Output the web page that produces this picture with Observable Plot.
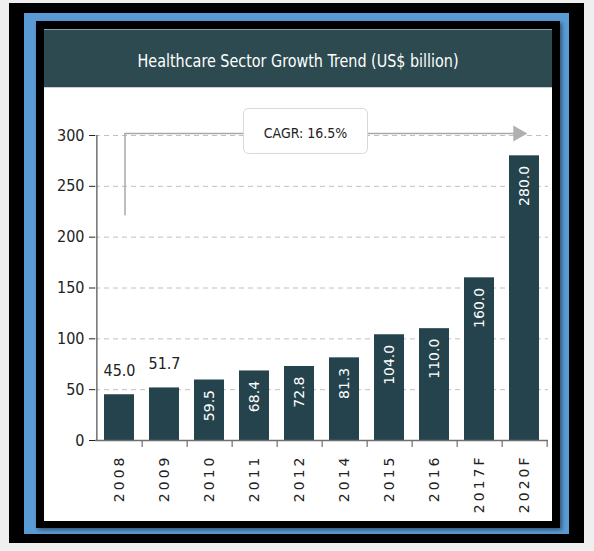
<!DOCTYPE html>
<html>
<head>
<meta charset="utf-8">
<script src="https://cdn.jsdelivr.net/npm/d3@7"></script>
<script src="https://cdn.jsdelivr.net/npm/@observablehq/plot@0.6"></script>
<style>
  html, body { margin: 0; padding: 0; background: #efefef; }
  body { width: 594px; height: 551px; position: relative; overflow: hidden; }
  .abs { position: absolute; }
  #outer { left: 9px; top: 3px; width: 575px; height: 540px; background: #000; }
  #blue { left: 24px; top: 13px; width: 545px; height: 521px; background: #5b9bd5; }
  #inner { left: 36px; top: 21px; width: 524px; height: 507px; background: #000; box-shadow: 2px 2px 4px rgba(0,0,0,0.45); }
  #white { left: 44px; top: 29px; width: 508px; height: 492px; background: #fff; }
  #title { left: 44px; top: 29px; width: 508px; height: 59px; background: #2c4a4f;
           border-top: 1px solid #8aa0a3; box-sizing: border-box; border-bottom: 1px solid #c9d0d1;
           color: #fff; font-family: "DejaVu Sans Condensed", "DejaVu Sans", sans-serif;
           font-size: 18px; text-align: center; }
  #title span { display: inline-block; position: relative; top: 20px; white-space: nowrap; transform-origin: 50% 50%; }
  #chart { left: 44px; top: 88px; }
  #chart svg { background: transparent; overflow: visible; }
  #chart g[aria-label^="y-axis"] text { font-family: "DejaVu Sans Condensed", "DejaVu Sans", sans-serif; font-size: 16px; fill: #222; }
  #chart g[aria-label^="x-axis"] text { font-family: "DejaVu Sans", sans-serif; font-size: 14px; letter-spacing: 3px; fill: #222; }
  #chart g[aria-label="inside-labels"] text { letter-spacing: 3px; }
  #chart g[aria-label="cagr-box"] { filter: drop-shadow(1px 2px 2px rgba(0,0,0,0.2)); }
</style>
</head>
<body>
<div id="outer" class="abs"></div>
<div id="blue" class="abs"></div>
<div id="inner" class="abs"></div>
<div id="white" class="abs"></div>
<div id="title" class="abs"><span></span></div>
<div id="chart" class="abs"></div>
<script>
// ---- data ----
const titleText = "Healthcare Sector Growth Trend (US$ billion)";
const years = ["2008", "2009", "2010", "2011", "2012", "2014", "2015", "2016", "2017F", "2020F"];
const values = [45.0, 51.7, 59.5, 68.4, 72.8, 81.3, 104.0, 110.0, 160.0, 280.0];
const yTicks = [0, 50, 100, 150, 200, 250, 300];
const cagrLabel = "CAGR: 16.5%";
const cagrFrom = "2008";
const cagrTo = "2020F";
const cagrLabelAt = "2012";
const cagrLevel = 302;
const cagrStart = 221;

// ---- layout ----
const W = 508, H = 433;
const mL = 51, mR = 4, mT = 47, mB = 81;
const step = (W - mL - mR) / years.length;
const barColor = "#24434c";
const axisColor = "#6f6f6f";
const narrow = "DejaVu Sans Condensed, DejaVu Sans, sans-serif";

const rows = years.map((y, i) => ({year: y, value: values[i]}));
const inside = rows.filter(d => d.value >= 55);
const outside = rows.filter(d => d.value < 55);

const span = document.querySelector("#title span");
span.textContent = titleText;
const tw = span.getBoundingClientRect().width;
span.style.transform = `scaleX(${Math.min(1, 321 / tw)})`;

// rounded-rectangle symbol used for the CAGR call-out box
const boxW = 124, boxH = 45, boxR = 5;
const roundBox = {
  draw(ctx) {
    const x0 = -boxW / 2, y0 = -boxH / 2, x1 = boxW / 2, y1 = boxH / 2, r = boxR;
    ctx.moveTo(x0 + r, y0);
    ctx.lineTo(x1 - r, y0);
    ctx.arcTo(x1, y0, x1, y0 + r, r);
    ctx.lineTo(x1, y1 - r);
    ctx.arcTo(x1, y1, x1 - r, y1, r);
    ctx.lineTo(x0 + r, y1);
    ctx.arcTo(x0, y1, x0, y1 - r, r);
    ctx.lineTo(x0, y0 + r);
    ctx.arcTo(x0, y0, x0 + r, y0, r);
    ctx.closePath();
  }
};

const chart = Plot.plot({
  width: W,
  height: H,
  marginLeft: mL,
  marginRight: mR,
  marginTop: mT,
  marginBottom: mB,
  style: {background: "transparent", color: "#222"},
  x: {domain: years, paddingInner: 0.34, paddingOuter: 0.17, label: null, tickSize: 0, tickRotate: -90, tickPadding: 14},
  y: {domain: [0, 300], ticks: yTicks, tickSize: 6, tickPadding: 5, label: null},
  marks: [
    Plot.ruleY(yTicks.filter(t => t > 0), {stroke: "#c0c0c0", strokeDasharray: "5,4", strokeWidth: 1}),
    Plot.barY(rows, {x: "year", y: "value", fill: barColor}),
    Plot.ruleY([0], {stroke: axisColor, strokeWidth: 1.5}),
    Plot.ruleX([years[0]], {y1: 0, y2: 300, dx: -step / 2, stroke: axisColor, strokeWidth: 1.5}),
    Plot.ruleX(years, {y1: 0, y2: -7, dx: step / 2, stroke: axisColor, strokeWidth: 1.2}),
    Plot.text(outside, {x: "year", y: "value", text: d => d.value.toFixed(1), dy: -24,
      fontSize: 16, fill: "#222", fontFamily: narrow}),
    Plot.text(inside, {x: "year", y: "value", text: d => d.value.toFixed(1), rotate: -90, textAnchor: "end",
      dy: 10, fontSize: 14, fill: "#fff", fontFamily: "DejaVu Sans, sans-serif", ariaLabel: "inside-labels"}),
    // CAGR annotation
    Plot.ruleX([cagrFrom], {y1: cagrStart, y2: cagrLevel, dx: 5.5, stroke: "#a8a8a8", strokeWidth: 1.5}),
    Plot.arrow([0], {x1: () => cagrFrom, x2: () => cagrTo, y1: cagrLevel, y2: cagrLevel, dx: 5.5,
      insetEnd: 16, headLength: 0, stroke: "#a8a8a8", strokeWidth: 1.5}),
    Plot.dot([0], {x: () => cagrTo, y: cagrLevel, symbol: "triangle", rotate: 90, r: 6, dx: -6.5,
      fill: "#b0b0b0", stroke: "none"}),
    Plot.dot([cagrLabel], {x: () => cagrLabelAt, y: cagrLevel, symbol: roundBox, dx: 6, dy: -2.5,
      fill: "#fff", stroke: "#d8d8d8", strokeWidth: 1, ariaLabel: "cagr-box"}),
    Plot.text([cagrLabel], {x: () => cagrLabelAt, y: cagrLevel, text: d => d, dx: 6, fontSize: 14,
      fill: "#222", fontFamily: narrow, ariaLabel: "cagr-label"})
  ]
});

document.getElementById("chart").appendChild(chart);
</script>
</body>
</html>
